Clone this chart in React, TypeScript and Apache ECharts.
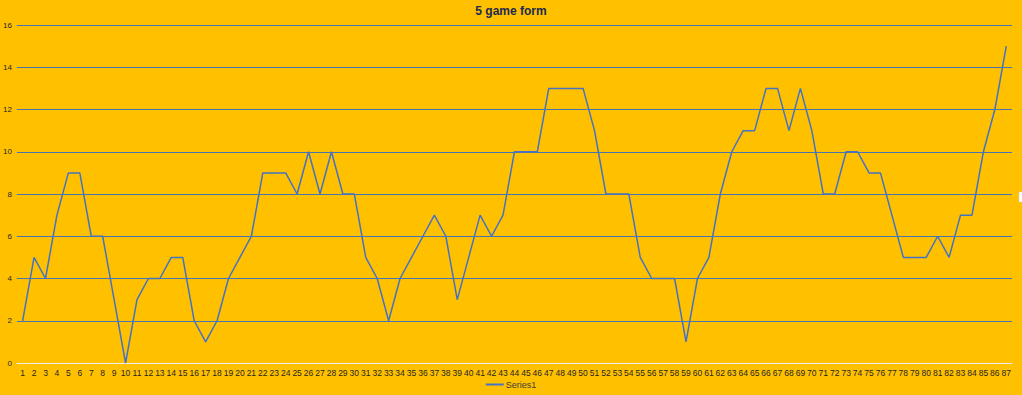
import React, { useEffect, useRef } from "react";
import * as echarts from "echarts";

const categories: string[] = Array.from({ length: 87 }, (_, i) => String(i + 1));

const series1: number[] = [
  2, 5, 4, 7, 9, 9, 6, 6, 3, 0,
  3, 4, 4, 5, 5, 2, 1, 2, 4, 5,
  6, 9, 9, 9, 8, 10, 8, 10, 8, 8,
  5, 4, 2, 4, 5, 6, 7, 6, 3, 5,
  7, 6, 7, 10, 10, 10, 13, 13, 13, 13,
  11, 8, 8, 8, 5, 4, 4, 4, 1, 4,
  5, 8, 10, 11, 11, 13, 13, 11, 13, 11,
  8, 8, 10, 10, 9, 9, 7, 5, 5, 5,
  6, 5, 7, 7, 10, 12, 15,
];

const title = "5 game form";
const seriesName = "Series1";

export default function App() {
  const ref = useRef<HTMLDivElement>(null);
  useEffect(() => {
    if (!ref.current) return;
    const chart = echarts.init(ref.current, null, { renderer: "svg" });
    chart.setOption({
      animation: false,
      backgroundColor: "#FFC000",
      title: {
        text: title,
        left: "center",
        top: 0,
        textStyle: {
          fontFamily: "Liberation Sans, Arial, sans-serif",
          fontSize: 12,
          fontWeight: "bold",
          color: "#1c2a4e",
        },
      },
      legend: {
        bottom: 1,
        left: "center",
        itemWidth: 18,
        itemHeight: 2,
        itemGap: 4,
        icon: "rect",
        textStyle: {
          fontFamily: "Liberation Sans, Arial, sans-serif",
          fontSize: 9,
          color: "#404040",
          padding: [0, 0, 0, -3],
        },
        data: [seriesName],
      },
      grid: { left: 16, right: 10, top: 25, bottom: 32, containLabel: false },
      xAxis: {
        type: "category",
        data: categories,
        boundaryGap: true,
        axisLine: { show: true, lineStyle: { color: "#eeeeee", width: 1 } },
        axisTick: { show: false },
        axisLabel: {
          interval: 0,
          fontFamily: "Liberation Sans, Arial, sans-serif",
          fontSize: 8.5,
          color: "#262626",
          margin: 5,
        },
      },
      yAxis: {
        type: "value",
        min: 0,
        max: 16,
        interval: 2,
        axisLine: { show: false },
        axisTick: { show: false },
        axisLabel: {
          fontFamily: "Liberation Sans, Arial, sans-serif",
          fontSize: 8,
          color: "#262626",
          margin: 5,
        },
        splitLine: { show: true, lineStyle: { color: "#4676b0", width: 1 } },
      },
      series: [
        {
          name: seriesName,
          type: "line",
          data: series1,
          symbol: "none",
          lineStyle: { color: "#4472C4", width: 1.5 },
          itemStyle: { color: "#4472C4" },
        },
      ],
      graphic: [
        {
          type: "rect",
          shape: { x: 1019, y: 192, width: 4, height: 10 },
          style: { fill: "#ffffff", stroke: "#cccccc", lineWidth: 0.5 },
        },
      ],
    });
    return () => chart.dispose();
  }, []);
  return <div ref={ref} style={{ width: 1022, height: 395, position: "absolute", left: 0, top: 0 }} />;
}
